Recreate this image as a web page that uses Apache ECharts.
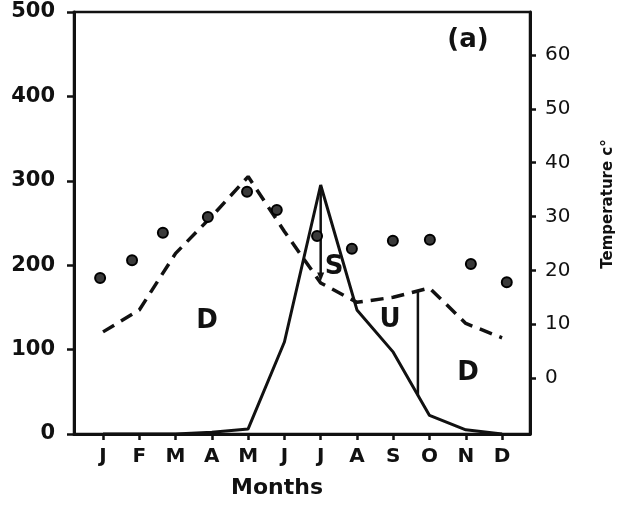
<!DOCTYPE html>
<html>
<head>
<meta charset="utf-8">
<script src="https://cdn.jsdelivr.net/npm/echarts@6/dist/echarts.min.js"></script>
<style>
    html, body { margin: 0; padding: 0; background: #fff; }
    #chart { width: 620px; height: 506px; }
</style>
</head>
<body>
<div id="chart"></div>
<script>
// month ticks on the x axis (1 = Jan ... 12 = Dec)
let monthPos = [1, 2, 3, 4, 5, 6, 7, 8, 9, 10, 11, 12];
let monthLabels = ['J', 'F', 'M', 'A', 'M', 'J', 'J', 'A', 'S', 'O', 'N', 'D'];

// solid curve (left axis)
let solidVals = [0, 0, 0, 2, 6, 109, 295, 147, 97, 22, 5, 0];
// dashed curve (left axis)
let dashedVals = [121, 147, 214, 258, 305, 240, 179, 156, 162, 173, 131, 114];

// temperature dots (right axis), read at their own x positions
let tempX = [0.92, 1.80, 2.65, 3.89, 4.97, 5.79, 6.90, 7.86, 8.99, 10.01, 11.14, 12.13];
let tempVals = [18.6, 21.9, 27.0, 29.9, 34.6, 31.2, 26.4, 24.0, 25.5, 25.7, 21.2, 17.8];

// vertical marker lines
let surplusLine = [[7, 293], [7, 186]];
let usageLine = [[9.68, 169], [9.68, 46]];

// letters inside the plot
let notes = [
    { name: 'D', value: [3.87, 133] },
    { name: 'S', value: [7.37, 198] },
    { name: 'U', value: [8.91, 135] },
    { name: 'D', value: [11.06, 72] },
    { name: '(a)', value: [11.06, 466] }
];

let leftTicks = [0, 100, 200, 300, 400, 500];
let rightTicks = [0, 10, 20, 30, 40, 50, 60];

let ink = '#111';
let font = 'DejaVu Sans';

function pairs(xs, ys) {
    let res = [];
    for (let i = 0; i < xs.length; i++) {
        res.push([xs[i], ys[i]]);
    }
    return res;
}

let myChart = echarts.init(document.getElementById('chart'));

let arrowEnd = surplusLine.map(function (p, i) {
    if (i === surplusLine.length - 1) {
        return { value: p, symbol: 'triangle', symbolRotate: 180, symbolSize: [7, 9] };
    }
    return { value: p, symbol: 'none' };
});

let option = {
    backgroundColor: '#fff',
    animation: false,
    grid: {
        left: 74,
        right: 90,
        top: 12,
        bottom: 72,
        show: true,
        borderColor: ink,
        borderWidth: 2.5
    },
    xAxis: {
        type: 'value',
        min: 0.2,
        max: 12.77,
        splitLine: { show: false },
        axisLine: { lineStyle: { color: ink, width: 3 } },
        axisTick: {
            customValues: monthPos,
            length: 6,
            lineStyle: { color: ink, width: 2.5 }
        },
        axisLabel: {
            customValues: monthPos,
            margin: 13,
            color: ink,
            fontFamily: font,
            fontWeight: 'bold',
            fontSize: 20,
            formatter: function (v) {
                return monthLabels[Math.round(v) - 1];
            }
        }
    },
    yAxis: [
        {
            type: 'value',
            min: 0,
            max: 500,
            interval: 100,
            splitLine: { show: false },
            axisLine: { show: true, lineStyle: { color: ink, width: 3 } },
            axisTick: { show: true, length: 7, lineStyle: { color: ink, width: 2.5 } },
            axisLabel: {
                customValues: leftTicks,
                margin: 19,
                color: ink,
                fontFamily: font,
                fontWeight: 'bold',
                fontSize: 21
            }
        },
        {
            type: 'value',
            position: 'right',
            min: -10.4,
            max: 68,
            splitLine: { show: false },
            axisLine: { show: true, lineStyle: { color: ink, width: 3 } },
            axisTick: {
                show: true,
                customValues: rightTicks,
                length: 6,
                lineStyle: { color: ink, width: 2.5 }
            },
            axisLabel: {
                customValues: rightTicks,
                margin: 15,
                color: ink,
                fontFamily: font,
                fontSize: 20
            }
        }
    ],
    graphic: [
        {
            type: 'text',
            x: 277,
            y: 488,
            style: {
                text: 'Months',
                fill: ink,
                font: 'bold 22px "DejaVu Sans"',
                align: 'center',
                verticalAlign: 'middle'
            }
        },
        {
            type: 'text',
            x: 608,
            y: 204,
            rotation: Math.PI / 2,
            style: {
                text: 'Temperature c°',
                fill: ink,
                font: 'bold 15px "DejaVu Sans"',
                align: 'center',
                verticalAlign: 'middle'
            }
        }
    ],
    series: [
        {
            name: 'solid',
            type: 'line',
            data: pairs(monthPos, solidVals),
            symbol: 'none',
            lineStyle: { color: ink, width: 3 }
        },
        {
            name: 'dashed',
            type: 'line',
            data: pairs(monthPos, dashedVals),
            symbol: 'none',
            lineStyle: { color: ink, width: 3.5, type: [13, 8] }
        },
        {
            name: 'surplus',
            type: 'line',
            data: arrowEnd,
            itemStyle: { color: ink },
            lineStyle: { color: ink, width: 2.5 }
        },
        {
            name: 'usage',
            type: 'line',
            data: usageLine,
            symbol: 'none',
            lineStyle: { color: ink, width: 2.5 }
        },
        {
            name: 'temperature',
            type: 'scatter',
            yAxisIndex: 1,
            data: pairs(tempX, tempVals),
            symbol: 'circle',
            symbolSize: 10,
            itemStyle: { color: '#3a3a3a', borderColor: '#000', borderWidth: 2, opacity: 1 },
            z: 5
        },
        {
            name: 'notes',
            type: 'scatter',
            data: notes,
            symbolSize: 0,
            itemStyle: { opacity: 1 },
            label: {
                show: true,
                position: 'inside',
                formatter: '{b}',
                color: ink,
                fontFamily: font,
                fontWeight: 'bold',
                fontSize: 26
            }
        }
    ]
};
myChart.setOption(option);
</script>
</body>
</html>
